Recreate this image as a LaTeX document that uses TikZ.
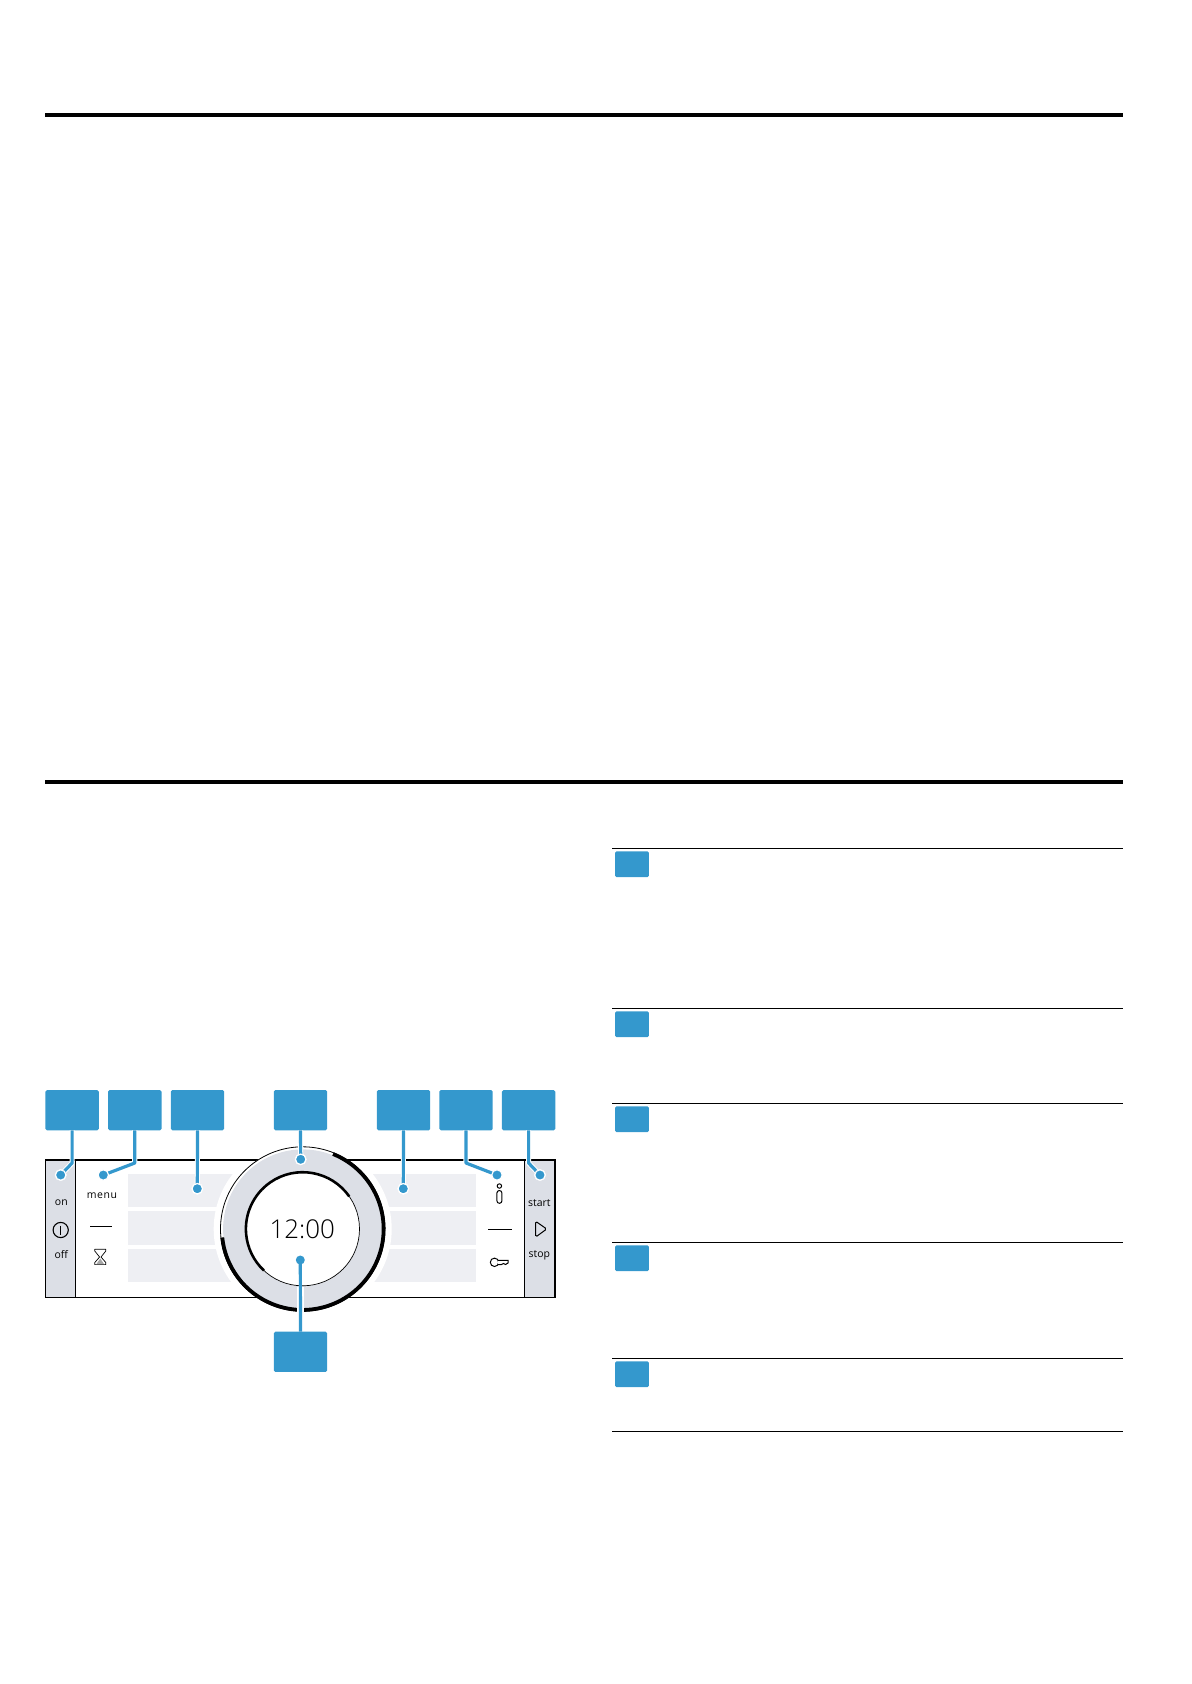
\documentclass[tikz,border=0pt]{standalone}
\usepackage{fontspec}
\setmainfont{Open Sans}
\newfontfamily\clockfont{Open Sans Light}
\newfontfamily\menufont{Open Sans}[LetterSpace=6]
\definecolor{calloutblue}{HTML}{3498CD}
\definecolor{ringgray}{HTML}{DCDFE6}
\definecolor{stripgray}{HTML}{EEEFF3}
\tikzset{
  callout/.style={fill=calloutblue,draw=none,rounded corners=1.5,minimum width=53.6,minimum height=40.3,inner sep=0},
  tabbox/.style={fill=calloutblue,draw=none,rounded corners=1.5,minimum width=34,minimum height=26,inner sep=0},
  calldot/.style={circle,fill=calloutblue,draw=white,line width=1.2,minimum size=10.5,inner sep=0},
  label/.style={inner sep=0,font=\fontsize{10.5}{12}\selectfont},
  leader/.style={calloutblue,line width=3.2,line join=round},
  leadercase/.style={white,line width=5.2,line join=round},
  icon/.style={black,line width=0.8}
}
\begin{document}
\begin{tikzpicture}[x=1bp,y=-1bp]
\useasboundingbox (0,0) rectangle (1191,1684);
%\draw[help lines,step=100] (0,0) grid (1191,1684);

% heavy rules
\draw [line width=4] (45,115) -- (1123,115);
\draw [line width=4] (45,781.8) -- (1123,781.8);

% rules and tabs on the right
\foreach \k/\y in {a/848.3,b/1008.3,c/1103.3,d/1242.3,e/1358.3}{
\draw [line width=1.2] (612.3,\y) -- (1122.5,\y);
\node [tabbox] (tab\k) at (632,\y+15.9) {};
}
\draw [line width=1.2] (612.3,1431.2) -- (1122.5,1431.2);

% strips
\foreach \x/\w in {127.7/175,302.7/173.3}{
\fill [stripgray] (\x,1173.7) rectangle (\x+\w,1207);
\fill [stripgray] (\x,1211) rectangle (\x+\w,1244.7);
\fill [stripgray] (\x,1249) rectangle (\x+\w,1282);
}
\fill [white] (302.7,1229) circle (89);

% panel
\fill [ringgray] (45.3,1160) rectangle (75.3,1297.7);
\fill [ringgray] (524.3,1160) rectangle (555,1297.7);
\draw [line width=1.2] (45.3,1160) rectangle (555,1297.7);
\draw [line width=1] (75.3,1160) -- (75.3,1297.7);
\draw [line width=1] (524.3,1160) -- (524.3,1297.7);

% dial
\fill [white] (302.7,1229) circle (82.4);
\fill [ringgray] (302.7,1229) circle (79.6);
\fill [white] (302.7,1229) circle (57);
\draw [line width=0.8] (302.7,1229) circle (82.2);
\draw [line width=3.8] (302.7,1229) ++(-68:80.9) arc (-68:174:80.9);
\draw [line width=0.7] (302.7,1229) circle (56.8);
\draw [line width=2.6] (302.7,1229) ++(-35:56.8) arc (-35:-227:56.8);
\node [inner sep=0,font=\clockfont\fontsize{26}{30}\selectfont] (clock) at (302.3,1229.5) {12:00};

% labels
\node [label] (on) at (61.3,1203) {on};
\node [label] (off) at (61.3,1255) {off};
\node [label,font=\menufont\fontsize{10.5}{12}\selectfont] (menu) at (102,1195.5) {menu};
\node [label] (start) at (539.3,1203) {start};
\node [label] (stop) at (539.3,1255.5) {stop};

% icons
\draw [icon,line width=1.1] (60.7,1230) circle (7.6);
\draw [icon,line width=1.1] (60.7,1225.5) -- (60.7,1234.5);
\draw [icon] (90,1226) -- (111.7,1226);
\draw [icon] (488,1229.3) -- (512,1229.3);
\fill [gray!70] (96.5,1264) -- (100.3,1258.5) -- (104,1264) -- cycle;
\draw [icon,line width=0.7,line join=round] (94.8,1249.2) -- (105.8,1249.2) -- (105.8,1251) -- (101,1257) -- (105.8,1262.5) -- (105.8,1264.6) -- (94.8,1264.6) -- (94.8,1262.5) -- (99.6,1257) -- (94.8,1251) -- cycle;
\draw [icon,line width=1] (499.4,1186) circle (2.2);
\draw [icon,line width=1,rounded corners=2.5] (496.9,1190.5) rectangle (501.9,1203.3);
\draw [icon,line width=1,rounded corners=1.5] (535.7,1221.3) -- (546.7,1229) -- (535.7,1237) -- cycle;
\draw [icon,line width=1] (498,1260.3) -- (508,1260.3) -- (508,1263) -- (505.5,1264.5) -- (503.5,1263.5) -- (501.5,1264.5) -- (498,1264.5);
\draw [icon,line width=1,fill=white] (494.5,1262.3) circle (4.2);
\fill [white] (497.5,1261) rectangle (499.5,1264);

% call-outs
\foreach \k/\x/\dx/\dy in {on/72.1/60.7/1175,menu/134.8/103.3/1175,lstrip/197.5/197.3/1188.7,ring/300.5/300.7/1159.3,rstrip/403.5/403.3/1188.7,info/466/497/1175,begin/528.6/540/1175}{
\node [callout] (box\k) at (\x,1110.2) {};
\node [calldot] (dot\k) at (\dx,\dy) {};
\coordinate (knee\k) at (\x,1163);
}
\node [callout] (boxclock) at (300.5,1351.8) {};
\node [calldot,draw=none,minimum size=9] (dotclock) at (300.3,1260) {};

\foreach \k in {on,menu,info,begin}{
\draw [leadercase] (box\k.south) -- (knee\k) -- (dot\k.center);
\draw [leader] (box\k.south) -- (knee\k) -- (dot\k.center);
\node [calldot] at (dot\k) {};
}
\foreach \k in {lstrip,ring,rstrip}{
\draw [leadercase] (box\k.south) -- (dot\k.center);
\draw [leader] (box\k.south) -- (dot\k.center);
\node [calldot] at (dot\k) {};
}
\draw [white,line width=6.5] (dotclock |- 0,1287) -- (dotclock |- 0,1313);
\draw [leader] (boxclock.north) -- (dotclock.center);
\end{tikzpicture}
\end{document}
